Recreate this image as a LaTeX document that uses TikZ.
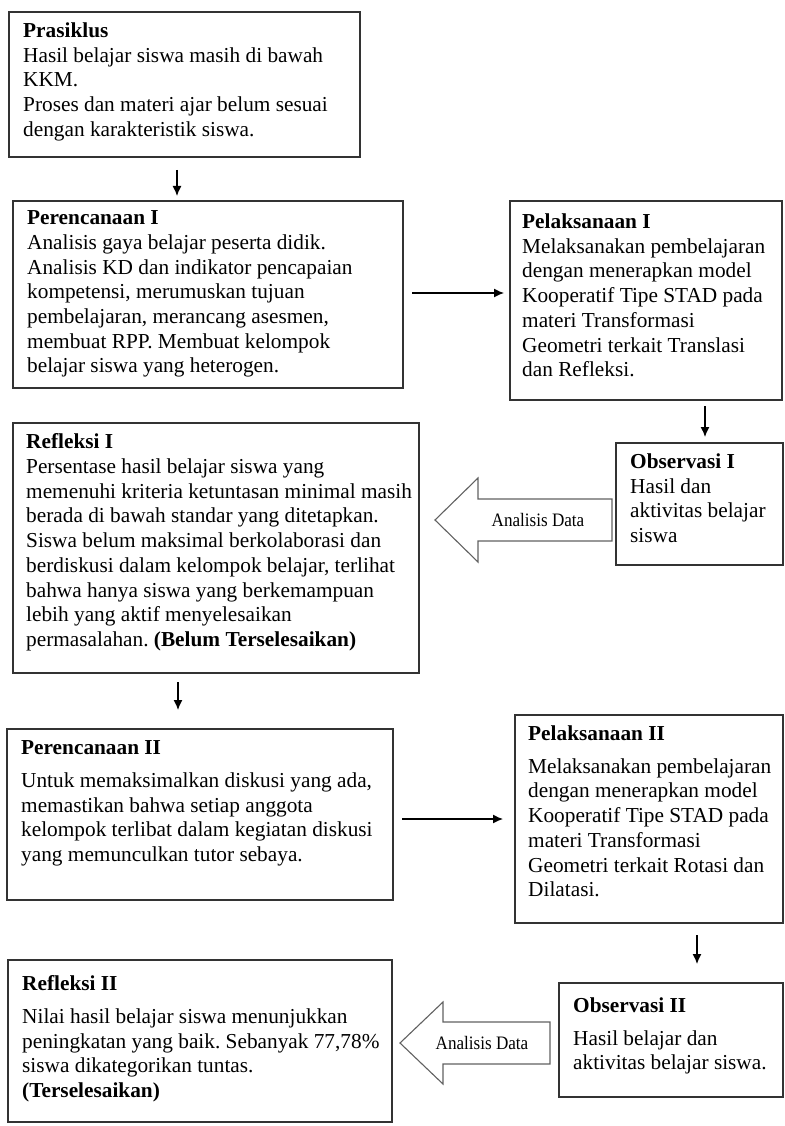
\documentclass[tikz,border=0pt]{standalone}
\usepackage{fontspec}
\usepackage{graphicx}
\setmainfont{Liberation Serif}
\usetikzlibrary{positioning,arrows.meta}
\frenchspacing

\begin{document}
\begin{tikzpicture}[x=1pt,y=-1pt,
	frame/.style={draw=black!80, line width=1.3pt, anchor=north west, inner sep=0pt, outer sep=0pt},
	txt/.style={align=left, inner sep=0pt, font=\fontsize{21.3}{24.7}\selectfont},
	arr/.style={line width=1.3pt, -{Latex[length=10pt,width=9pt]}},
	blok/.style={draw=black!62, line width=1.1pt, fill=white},
	blokteks/.style={inner sep=0pt, font=\fontsize{19}{22}\selectfont}]

	\useasboundingbox (0,0) rectangle (784,1126);

	% siklus I
	\node[frame, minimum width=351pt, minimum height=145pt] (pra) at (9,12) {};
	\node[txt, below right=10.6pt and 14pt of pra.north west] (pra-t)
	{\textbf{Prasiklus}\\
	Hasil belajar siswa masih di bawah\\
	KKM.\\
	Proses dan materi ajar belum sesuai\\
	dengan karakteristik siswa.};

	\node[frame, minimum width=390pt, minimum height=187pt] (per1) at (13,201) {};
	\node[txt, below right=9.6pt and 14pt of per1.north west] (per1-t)
	{\textbf{Perencanaan I}\\
	Analisis gaya belajar peserta didik.\\
	Analisis KD dan indikator pencapaian\\
	kompetensi, merumuskan tujuan\\
	pembelajaran, merancang asesmen,\\
	membuat RPP. Membuat kelompok\\
	belajar siswa yang heterogen.};

	\node[frame, minimum width=272pt, minimum height=199pt] (pel1) at (510,201) {};
	\node[txt, below right=12.6pt and 12pt of pel1.north west] (pel1-t)
	{\textbf{Pelaksanaan I}\\
	Melaksanakan pembelajaran\\
	dengan menerapkan model\\
	Kooperatif Tipe STAD pada\\
	materi Transformasi\\
	Geometri terkait Translasi\\
	dan Refleksi.};

	\node[frame, minimum width=167pt, minimum height=122pt] (obs1) at (616,443) {};
	\node[txt, below right=10.6pt and 14pt of obs1.north west] (obs1-t)
	{\textbf{Observasi I}\\
	Hasil dan\\
	aktivitas belajar\\
	siswa};

	\node[frame, minimum width=406pt, minimum height=250pt] (ref1) at (13,423) {};
	\node[txt, below right=10.6pt and 13pt of ref1.north west] (ref1-t)
	{\textbf{Refleksi I}\\
	Persentase hasil belajar siswa yang\\
	memenuhi kriteria ketuntasan minimal masih\\
	berada di bawah standar yang ditetapkan.\\
	Siswa belum maksimal berkolaborasi dan\\
	berdiskusi dalam kelompok belajar, terlihat\\
	bahwa hanya siswa yang berkemampuan\\
	lebih yang aktif menyelesaikan\\
	permasalahan. \textbf{(Belum Terselesaikan)}};

	% siklus II
	\node[frame, minimum width=386pt, minimum height=171pt] (per2) at (7,729) {};
	\node[txt, below right=11.6pt and 14pt of per2.north west] (per2-t)
	{\textbf{Perencanaan II}\\[8pt]
	Untuk memaksimalkan diskusi yang ada,\\
	memastikan bahwa setiap anggota\\
	kelompok terlibat dalam kegiatan diskusi\\
	yang memunculkan tutor sebaya.};

	\node[frame, minimum width=268pt, minimum height=208pt] (pel2) at (515,715) {};
	\node[txt, below right=10.6pt and 13pt of pel2.north west] (pel2-t)
	{\textbf{Pelaksanaan II}\\[8pt]
	Melaksanakan pembelajaran\\
	dengan menerapkan model\\
	Kooperatif Tipe STAD pada\\
	materi Transformasi\\
	Geometri terkait Rotasi dan\\
	Dilatasi.};

	\node[frame, minimum width=224pt, minimum height=114pt] (obs2) at (559,983) {};
	\node[txt, below right=14.6pt and 14pt of obs2.north west] (obs2-t)
	{\textbf{Observasi II}\\[8pt]
	Hasil belajar dan\\
	aktivitas belajar siswa.};

	\node[frame, minimum width=384pt, minimum height=162pt] (ref2) at (8,960) {};
	\node[txt, below right=15.6pt and 14pt of ref2.north west] (ref2-t)
	{\textbf{Refleksi II}\\[8pt]
	Nilai hasil belajar siswa menunjukkan\\
	peningkatan yang baik. Sebanyak 77,78\%\\
	siswa dikategorikan tuntas.\\
	\textbf{(Terselesaikan)}};

	% panah
	\draw[arr] ([shift={(-7.5,13)}]pra.south) -- ([shift={(-31,-5)}]per1.north);
	\draw[arr] ([shift={(9,-1.5)}]per1.east) -- ([shift={(-6,-7.5)}]pel1.west);
	\draw[arr] ([shift={(59,6)}]pel1.south) -- ([shift={(5.5,-6)}]obs1.north);
	\draw[arr] ([shift={(-38,9)}]ref1.south) -- ([shift={(-22,-19)}]per2.north);
	\draw[arr] ([shift={(9,4.5)}]per2.east) -- ([shift={(-12,0)}]pel2.west);
	\draw[arr] ([shift={(48,12)}]pel2.south) -- ([shift={(26,-19)}]obs2.north);

	% panah blok analisis data
	\draw[blok] (435,520) -- (478,478) -- (478,499) -- (612,499) -- (612,541)
		-- (478,541) -- (478,562) -- cycle;
	\node[blokteks] (ana1) at (538,520) {\scalebox{0.9}[1]{Analisis Data}};
	\draw[blok] (400,1043) -- (443,1002) -- (443,1022) -- (550,1022) -- (550,1064)
		-- (443,1064) -- (443,1084) -- cycle;
	\node[blokteks] (ana2) at (482,1043) {\scalebox{0.9}[1]{Analisis Data}};

\end{tikzpicture}
\end{document}
